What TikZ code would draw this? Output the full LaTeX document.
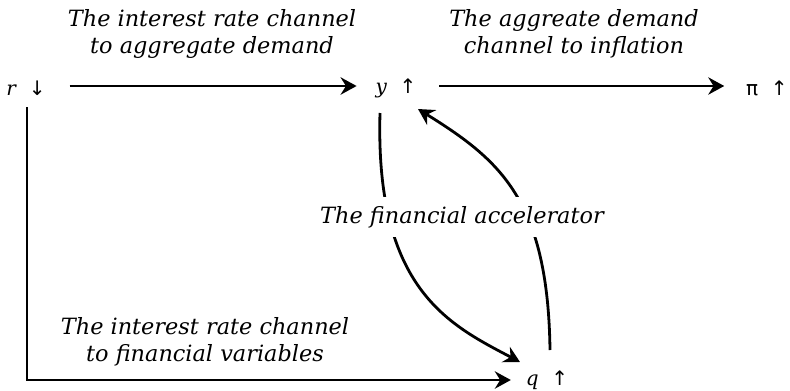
\documentclass[tikz,border=0pt]{standalone}
\usepackage{fontspec}
\setmainfont{DejaVu Serif}
\newfontfamily\symf{DejaVu Sans}
\usetikzlibrary{arrows.meta,calc}
\begin{document}
\begin{tikzpicture}[x=0.75pt,y=-0.75pt,
  every node/.style={inner sep=0pt,outer sep=0pt,font=\fontsize{15}{20}\selectfont},
  var/.style={},
  lbl/.style={align=center,font=\fontsize{16.8}{20.5}\selectfont\itshape},
  conn/.style={line width=2.1pt,-{Stealth[length=12pt,width=13pt,inset=4pt]}}]
\useasboundingbox (0,0) rectangle (790,390);
\node[var] (r) at (26,88) {\itshape r\ \ {\upshape\symf ↓}};
\node[var] (y) at (396,88) {\itshape y\ \ {\upshape\symf ↑}};
\node[var] (p) at (767,88) {{\symf π}\ \ {\symf ↑}};
\node[var] (q) at (547,380) {\itshape q\ \ {\upshape\symf ↑}};
\node[lbl] (l1) at (212,34) {The interest rate channel\\to aggregate demand};
\node[lbl] (l2) at (574,34) {The aggreate demand\\channel to inflation};
\node[lbl] (l3) at (205,342) {The interest rate channel\\to financial variables};
\draw[conn] ($(r.east)+(24,-2)$) -- ($(y.west)+(-19,-2)$);
\draw[conn] ($(y.east)+(23,-2)$) -- ($(p.west)+(-22,-2)$);
\draw[conn] ($(r.south)+(1,12)$) |- ($(q.west)+(-15,0)$);
\draw[conn] ($(y)+(-16,25)$) .. controls (375,290) and (450,325) .. ($(q)+(-27,-18)$);
\draw[conn] ($(q)+(3,-30)$) .. controls (548,200) and (500,160) .. ($(y)+(22,21)$);
\node[lbl,fill=white,inner xsep=4pt,inner ysep=7pt] (fa) at (462,217) {The financial accelerator};
\end{tikzpicture}
\end{document}
